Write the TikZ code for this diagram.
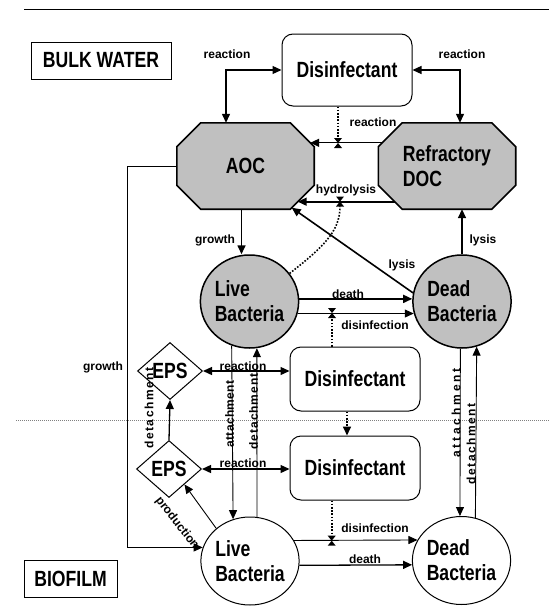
\documentclass[tikz,border=0pt]{standalone}
\usepackage{fontspec}
\setmainfont{Liberation Sans}
\newfontfamily\narrowfont[FakeStretch=0.8]{Liberation Sans}
\usetikzlibrary{shapes.geometric,arrows.meta,calc,backgrounds}
\definecolor{octgray}{HTML}{C0C0C0}
\newcommand{\octshape}[1]{%
  \filldraw[line width=1.6pt,fill=octgray]
    ($(#1.north west)+(24,0)$) -- ($(#1.north east)+(-24,0)$) -- ($(#1.north east)+(0,24)$)
    -- ($(#1.south east)+(0,-24)$) -- ($(#1.south east)+(-24,0)$) -- ($(#1.south west)+(24,0)$)
    -- ($(#1.south west)+(0,-24)$) -- ($(#1.north west)+(0,24)$) -- cycle;}

\begin{document}
\begin{tikzpicture}[x=1pt,y=-1pt,
  >={Triangle[length=9pt,width=8pt]},
  big/.style={font=\narrowfont\bfseries\fontsize{22}{25}\selectfont},
  lbl/.style={font=\bfseries\fontsize{12}{14}\selectfont,inner sep=0pt},
  region/.style={rectangle,draw,line width=1pt,big,minimum height=37pt},
  octa/.style={rectangle,minimum width=137pt,minimum height=86pt,inner sep=0pt,big},
  disbox/.style={rectangle,rounded corners=11pt,draw,line width=1pt,minimum width=130pt,big},
  bact/.style={ellipse,draw,inner sep=0pt,align=left,big},
  eps/.style={diamond,draw,line width=1pt,minimum width=65pt,minimum height=57pt,inner sep=0pt,big},
  flow/.style={line width=1.6pt},
  react/.style={line width=1.3pt},
  link/.style={line width=0.9pt},
  dots/.style={line width=1.6pt,dash pattern=on 1.6pt off 1.6pt},
  hglass/.pic={\fill (-4,-5) -- (4,-5) -- (0,0) -- cycle; \fill (-4,5) -- (4,5) -- (0,0) -- cycle;}]
  \useasboundingbox (0,0) rectangle (549,613);
  \draw[line width=1pt] (24,9) -- (549,9);
  \draw[gray,line width=0.7pt,dash pattern=on 1pt off 1pt] (16,420) -- (549,420);

  \node[region,minimum width=140pt] (bulk) at (101,60.5) {BULK WATER};
  \node[region,minimum width=93pt] (biofilm) at (70.5,578.5) {BIOFILM};

  \node[disbox,minimum height=72pt] (dis1) at (347,70) {Disinfectant};
  \node[octa] (aoc) at (245.5,166) {AOC};
  \node[octa,align=left] (refr) at (447,166) {Refractory\\DOC};
  \node[bact,fill=octgray,line width=1.5pt,minimum width=97pt,minimum height=93pt] (livebulk) at (249.5,301.5) {Live\\Bacteria};
  \node[bact,fill=octgray,line width=1.5pt,minimum width=97pt,minimum height=93pt] (deadbulk) at (462,301.5) {Dead\\Bacteria};
  \node[disbox,minimum height=64pt] (dis2) at (355,379) {Disinfectant};
  \node[disbox,minimum height=64pt] (dis3) at (355,468) {Disinfectant};
  \node[eps] (epstop) at (170,371) {EPS};
  \node[eps] (epsbot) at (169,469) {EPS};
  \node[bact,line width=1pt,minimum width=96pt,minimum height=88pt] (livebio) at (250,561) {Live\\Bacteria};
  \node[bact,line width=1pt,minimum width=96pt,minimum height=88pt] (deadbio) at (461.5,560.5) {Dead\\Bacteria};
  \begin{scope}[on background layer]
    \octshape{aoc}
    \octshape{refr}
  \end{scope}

  \coordinate (hg1) at (338,143);
  \coordinate (hg2) at (340,201.5);
  \coordinate (hg3) at (332,313);
  \coordinate (hg4) at (331.7,540.7);

  \draw[<->,react] (dis1.west) -| ([xshift=-19.5pt]aoc.north);
  \draw[<->,react] (dis1.east) -| ([xshift=13pt]refr.north);
  \draw[->,react] ($(refr.north west)+(4,20)$) -- ($(aoc.north east)+(-4,20)$);
  \draw[dots] (dis1.south -| hg1) -- ($(hg1)+(0,-5)$);
  \pic at (hg1) {hglass};
  \draw[->,flow] ($(refr.south west)+(16.5,-7.5)$) -- ($(aoc.south east)+(-16.5,-7.5)$);
  \draw[dots] (livebulk.35) .. controls (322,248) and (340,232) .. ($(hg2)+(0,5)$);
  \pic at (hg2) {hglass};
  \draw[->,flow] ([xshift=-4pt]aoc.south) -- ([xshift=-4pt]aoc.south |- livebulk.north);
  \draw[->,flow] (deadbulk.north) -- (deadbulk.north |- refr.south);
  \draw[->,flow] (deadbulk.170) -- ($(aoc.south east)+(-22.5,-1.5)$);
  \draw[->,flow] (livebulk.3) -- (deadbulk.177);
  \draw[->,link] (livebulk.-14) -- (deadbulk.194);
  \draw[dots] (dis2.north -| hg3) -- ($(hg3)+(0,5)$);
  \pic at (hg3) {hglass};

  \draw[<->,react] (epstop.east) -- (epstop.east -| dis2.west);
  \draw[<->,react] (epsbot.east) -- (epsbot.east -| dis3.west);
  \draw[->,dots] ([xshift=-8pt]dis2.south) -- ([xshift=-8pt]dis3.north);
  \draw[dots] (dis3.south -| hg4) -- ($(hg4)+(0,-5)$);
  \pic at (hg4) {hglass};
  \draw[->,link] (livebulk.-112) -- (livebio.112.5);
  \draw[->,link] (livebio.81) -- (livebulk.-81);
  \draw[->,link] (deadbulk.-92) -- (deadbio.92);
  \draw[->,link] (deadbio.72) -- (deadbulk.-72);
  \draw[->,react] (epsbot.north) -- (epstop.south);
  \draw[->,link] (livebio.136) -- (epsbot.-45);
  \draw[->,link] (aoc.west) -- ++(-49,0) |- (livebio.164);
  \draw[->,link] (livebio.25) -- (deadbio.155);
  \draw[->,react] (livebio.-5) -- (deadbio.185);

  \node[lbl] (rct1) at (227,54) {reaction};
  \node[lbl] (rct2) at (462,54) {reaction};
  \node[lbl] (rct3) at (373,122) {reaction};
  \node[lbl] (hydro) at (346,190) {hydrolysis};
  \node[lbl] (grw1) at (215,240) {growth};
  \node[lbl] (lys1) at (483,240) {lysis};
  \node[lbl] (lys2) at (402,265) {lysis};
  \node[lbl] (dth1) at (348,294) {death};
  \node[lbl] (dis1l) at (375,325) {disinfection};
  \node[lbl] (grw2) at (103,367) {growth};
  \node[lbl] (rct4) at (243,366) {reaction};
  \node[lbl] (rct5) at (243,463) {reaction};
  \node[lbl] (dis2l) at (375,528) {disinfection};
  \node[lbl] (dth2) at (365,559) {death};
  \node[lbl,rotate=-52] (prod) at (177,523) {production};
  \node[lbl,rotate=90] (det1) at (149,408) {\addfontfeature{LetterSpace=13}detachment};
  \node[lbl,rotate=90] (att1) at (229.5,414) {\addfontfeature{LetterSpace=3}attachment};
  \node[lbl,rotate=90] (det2) at (253.5,411.5) {\addfontfeature{LetterSpace=8}detachment};
  \node[lbl,rotate=90] (att2) at (456,413) {\addfontfeature{LetterSpace=24}attachment};
  \node[lbl,rotate=90] (det3) at (471,444) {\addfontfeature{LetterSpace=12}detachment};
\end{tikzpicture}
\end{document}
